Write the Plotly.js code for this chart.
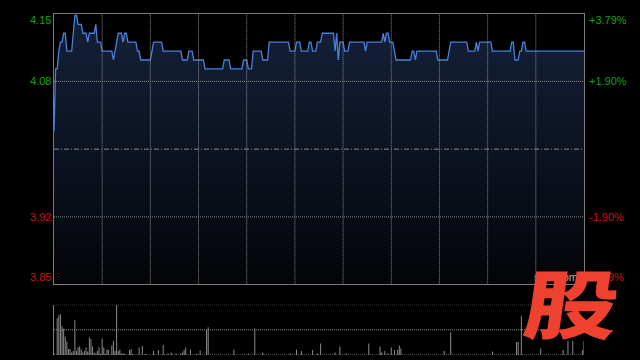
<!DOCTYPE html>
<html>
<head>
<meta charset="utf-8">
<script src="https://cdn.plot.ly/plotly-3.0.1.min.js"></script>
<style>
  html, body { margin: 0; padding: 0; background: #000; }
  #chart { width: 640px; height: 360px; }
</style>
</head>
<body>
<div id="chart"></div>
<script>
// ---- Data (one value per trading minute, 0..330) ----
const prevClose = 4.00;

const priceValues = [
  4.02, 4.09, 4.09, 4.11, 4.12, 4.12, 4.13, 4.13, 4.11, 4.11,
  4.11, 4.11, 4.13, 4.15, 4.15, 4.14, 4.14, 4.14, 4.13, 4.13,
  4.13, 4.12, 4.13, 4.13, 4.13, 4.13, 4.14, 4.12, 4.12, 4.12,
  4.11, 4.11, 4.11, 4.11, 4.11, 4.11, 4.11, 4.10, 4.11, 4.12,
  4.13, 4.13, 4.13, 4.12, 4.13, 4.13, 4.12, 4.12, 4.12, 4.12,
  4.12, 4.12, 4.11, 4.11, 4.10, 4.10, 4.10, 4.10, 4.10, 4.10,
  4.10, 4.11, 4.12, 4.12, 4.12, 4.12, 4.12, 4.12, 4.11, 4.11,
  4.11, 4.11, 4.11, 4.11, 4.11, 4.11, 4.11, 4.11, 4.11, 4.11,
  4.10, 4.10, 4.10, 4.10, 4.11, 4.11, 4.11, 4.10, 4.10, 4.10,
  4.10, 4.10, 4.10, 4.10, 4.09, 4.09, 4.09, 4.09, 4.09, 4.09,
  4.09, 4.09, 4.09, 4.09, 4.09, 4.09, 4.10, 4.10, 4.10, 4.10,
  4.09, 4.09, 4.09, 4.09, 4.09, 4.09, 4.09, 4.09, 4.10, 4.10,
  4.10, 4.09, 4.09, 4.09, 4.11, 4.11, 4.11, 4.11, 4.11, 4.11,
  4.10, 4.10, 4.10, 4.10, 4.12, 4.12, 4.12, 4.12, 4.12, 4.12,
  4.12, 4.12, 4.12, 4.12, 4.12, 4.12, 4.12, 4.11, 4.11, 4.11,
  4.11, 4.12, 4.12, 4.12, 4.11, 4.11, 4.11, 4.11, 4.11, 4.12,
  4.12, 4.11, 4.11, 4.11, 4.12, 4.12, 4.12, 4.13, 4.13, 4.13,
  4.13, 4.13, 4.13, 4.13, 4.13, 4.11, 4.13, 4.10, 4.12, 4.12,
  4.12, 4.11, 4.11, 4.11, 4.12, 4.12, 4.12, 4.12, 4.12, 4.12,
  4.12, 4.12, 4.12, 4.12, 4.11, 4.12, 4.12, 4.12, 4.12, 4.12,
  4.12, 4.12, 4.12, 4.12, 4.12, 4.13, 4.12, 4.13, 4.13, 4.12,
  4.12, 4.12, 4.11, 4.10, 4.10, 4.10, 4.10, 4.10, 4.10, 4.10,
  4.10, 4.10, 4.10, 4.11, 4.11, 4.10, 4.11, 4.11, 4.11, 4.11,
  4.11, 4.11, 4.11, 4.11, 4.11, 4.11, 4.11, 4.11, 4.11, 4.10,
  4.10, 4.10, 4.10, 4.10, 4.10, 4.10, 4.11, 4.12, 4.12, 4.12,
  4.12, 4.12, 4.12, 4.12, 4.12, 4.12, 4.12, 4.12, 4.11, 4.11,
  4.11, 4.11, 4.11, 4.12, 4.11, 4.12, 4.12, 4.12, 4.12, 4.12,
  4.12, 4.12, 4.12, 4.11, 4.11, 4.11, 4.11, 4.11, 4.11, 4.11,
  4.11, 4.11, 4.11, 4.11, 4.11, 4.12, 4.12, 4.10, 4.10, 4.10,
  4.11, 4.11, 4.12, 4.12, 4.11, 4.11, 4.11, 4.11, 4.11, 4.11,
  4.11, 4.11, 4.11, 4.11, 4.11, 4.11, 4.11, 4.11, 4.11, 4.11,
  4.11, 4.11, 4.11, 4.11, 4.11, 4.11, 4.11, 4.11, 4.11, 4.11,
  4.11, 4.11, 4.11, 4.11, 4.11, 4.11, 4.11, 4.11, 4.11, 4.11,
  4.11
];

// Volume (relative units, 100 = largest bar of the day), by trading minute
const volMinutes = [0, 2, 3, 4, 5, 6, 7, 8, 9, 10, 11, 12, 13, 14, 15, 16, 17, 18, 19, 20,
  21, 22, 23, 24, 25, 26, 27, 28, 29, 30, 31, 32, 33, 34, 36, 37, 38, 39, 40, 41,
  42, 43, 44, 47, 48, 49, 53, 55, 57, 62, 65, 68, 71, 73, 76, 79, 80, 81, 82, 85,
  89, 91, 95, 96, 112, 121, 125, 130, 147, 151, 154, 161, 164, 166, 175, 178, 182, 196, 203, 204,
  206, 208, 210, 212, 214, 215, 216, 243, 247, 273, 288, 289, 291, 303, 317, 320, 323, 329, 330];
const volValues = [3, 73, 79, 81, 57, 52, 37, 27, 12, 12, 5, 8, 69, 8, 15, 17, 11, 5, 8, 15,
  7, 35, 32, 17, 5, 3, 8, 15, 3, 33, 15, 3, 11, 10, 19, 28, 8, 100, 8, 11,
  3, 3, 3, 10, 12, 2, 15, 18, 2, 8, 10, 20, 3, 5, 3, 3, 5, 10, 15, 11,
  3, 9, 50, 55, 11, 3, 53, 5, 3, 11, 8, 10, 3, 23, 5, 17, 3, 23, 17, 5,
  8, 3, 15, 10, 10, 19, 13, 8, 45, 7, 26, 26, 77, 13, 10, 28, 28, 10, 28];

const leftLabels  = ['4.15', '4.08', '3.92', '3.85'];
const rightLabels = ['+3.79%', '+1.90%', '-1.90%', '-3.79%'];
const labelPct    = [3.79, 1.90, -1.90, -3.79];
const totalMinutes = 330;
const gridEvery = 30;
const volMax = 100;

// ---- Derived ----
const minutes = priceValues.map((_, i) => i);
const levels = labelPct.map(p => prevClose * (1 + p / 100));
const yHi = levels[0], yLo = levels[3];

const GREEN = '#10a010', RED = '#d41010', GRID = '#8c8c8c', FRAME = '#7a7a7a';
const FONT = 'Liberation Sans, Arial, sans-serif';

const traces = [
  {
    type: 'scatter', mode: 'lines', x: minutes, y: priceValues,
    xaxis: 'x', yaxis: 'y',
    line: { color: '#4a80dc', width: 1.3 },
    fill: 'tozeroy',
    fillgradient: {
      type: 'vertical', start: yLo, stop: yHi,
      colorscale: [[0, 'rgb(3,4,7)'], [0.5, 'rgb(12,19,34)'], [1, 'rgb(21,33,58)']]
    },
    hoverinfo: 'skip'
  },
  {
    type: 'bar', x: volMinutes, y: volValues, xaxis: 'x2', yaxis: 'y2',
    width: 0.62, marker: { color: '#8c8c8c', line: { width: 0 } },
    hoverinfo: 'skip'
  }
];

// Grid lines drawn above the area fill, as in the reference
const shapes = [];
for (let m = gridEvery; m < totalMinutes; m += gridEvery) {
  shapes.push({ type: 'line', xref: 'x', yref: 'y', x0: m, x1: m, y0: yLo, y1: yHi,
    line: { color: GRID, width: 1, dash: '1px,1px' }, layer: 'above' });
}
[levels[1], levels[2]].forEach(v => {
  shapes.push({ type: 'line', xref: 'paper', yref: 'y', x0: 0, x1: 1, y0: v, y1: v,
    line: { color: GRID, width: 1, dash: '1px,1px' }, layer: 'above' });
});
shapes.push({ type: 'line', xref: 'paper', yref: 'y', x0: 0, x1: 1, y0: prevClose, y1: prevClose,
  line: { color: GRID, width: 1, dash: '5px,2px,1px,2px' }, layer: 'above' });
[volMax, volMax / 2, 0].forEach(v => {
  shapes.push({ type: 'line', xref: 'paper', yref: 'y2', x0: 0, x1: 1, y0: v, y1: v,
    line: { color: GRID, width: 1, dash: '1px,1px' }, layer: 'below' });
});

const annotations = [];
leftLabels.forEach((t, i) => {
  annotations.push({
    xref: 'paper', yref: 'y', x: 0, y: levels[i], text: t, showarrow: false,
    xanchor: 'right', yanchor: i === 0 ? 'top' : (i === 3 ? 'bottom' : 'middle'),
    xshift: -1, yshift: i === 0 ? 2 : (i === 3 ? -1 : 0),
    font: { family: FONT, size: 11, color: i < 2 ? GREEN : RED }
  });
});
rightLabels.forEach((t, i) => {
  annotations.push({
    xref: 'paper', yref: 'y', x: 1, y: levels[i], text: t, showarrow: false,
    xanchor: 'left', yanchor: i === 0 ? 'top' : (i === 3 ? 'bottom' : 'middle'),
    xshift: 3, yshift: i === 0 ? 2 : (i === 3 ? -1 : 0),
    font: { family: FONT, size: 11, color: i < 2 ? GREEN : RED }
  });
});
annotations.push({
  xref: 'paper', yref: 'y', x: 0.901, y: yLo, text: 'sina.com', showarrow: false,
  xanchor: 'left', yanchor: 'bottom', yshift: -1,
  font: { family: FONT, size: 11, color: '#b0b0b0' }
});
annotations.push({
  xref: 'paper', yref: 'paper', x: 0.979, y: 0.1595, text: '股', showarrow: false,
  xanchor: 'center', yanchor: 'middle', name: 'logo',
  font: { family: 'Noto Sans CJK SC, sans-serif', size: 75, color: '#ee4130', weight: 900 }
});

const layout = {
  width: 640, height: 360,
  paper_bgcolor: '#000', plot_bgcolor: '#000',
  margin: { l: 54, r: 56, t: 14, b: 5 },
  showlegend: false,
  xaxis: {
    domain: [0, 1], range: [0, totalMinutes], anchor: 'y',
    showticklabels: false, ticks: '', showgrid: false,
    zeroline: false, showline: true, mirror: true, linecolor: FRAME, linewidth: 1
  },
  yaxis: {
    domain: [0.2073, 1], range: [yLo, yHi], anchor: 'x',
    showticklabels: false, ticks: '', showgrid: false,
    zeroline: false, showline: true, mirror: true, linecolor: FRAME, linewidth: 1
  },
  xaxis2: {
    domain: [0, 1], range: [0, totalMinutes], anchor: 'y2',
    showticklabels: false, ticks: '', showgrid: false, zeroline: false, showline: false
  },
  yaxis2: {
    domain: [0, 0.1475], range: [0, volMax], anchor: 'x2',
    showticklabels: false, ticks: '', showgrid: false, zeroline: false,
    showline: true, linecolor: FRAME, linewidth: 1
  },
  shapes: shapes,
  annotations: annotations
};

Plotly.newPlot('chart', traces, layout, { displayModeBar: false, staticPlot: true }).then(gd => {
  // Give the logo glyph its slanted, widened look
  const groups = gd.querySelectorAll('.annotation');
  const logo = groups[groups.length - 1];
  const txt = logo && logo.querySelector('text');
  if (txt) {
    txt.style.transformBox = 'fill-box';
    txt.style.transformOrigin = 'center';
    txt.style.transform = 'skewX(-8deg) scaleX(1.25)';
  }
});
</script>
</body>
</html>
